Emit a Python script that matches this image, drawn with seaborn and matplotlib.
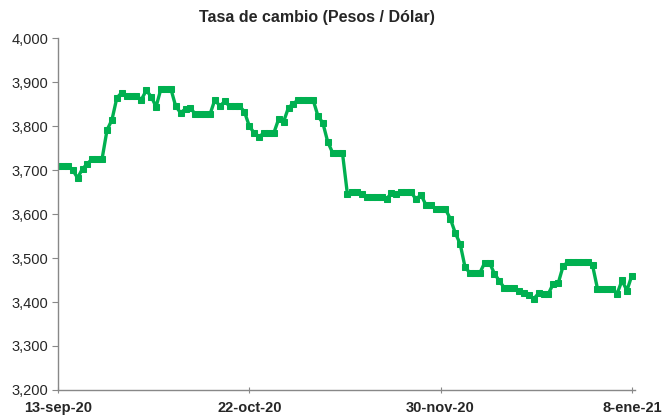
import pandas as pd
import matplotlib.pyplot as plt
import matplotlib.ticker as mticker
import seaborn as sns

# daily exchange rate, 13-sep-20 .. 8-ene-21
start_date = "2020-09-13"
tasa = [3710, 3710, 3710, 3700, 3682, 3703, 3714, 3726, 3726, 3726,
        3791, 3814, 3864, 3876, 3869, 3869, 3869, 3860, 3881, 3867,
        3844, 3885, 3885, 3885, 3845, 3830, 3839, 3841, 3827, 3827,
        3827, 3827, 3860, 3845, 3856, 3845, 3845, 3845, 3833, 3800,
        3784, 3776, 3784, 3784, 3784, 3816, 3810, 3842, 3851, 3860,
        3860, 3860, 3860, 3823, 3807, 3764, 3739, 3739, 3739, 3646,
        3649, 3649, 3646, 3639, 3639, 3639, 3639, 3634, 3648, 3646,
        3650, 3650, 3650, 3633, 3644, 3621, 3621, 3611, 3611, 3611,
        3589, 3557, 3532, 3479, 3466, 3466, 3466, 3489, 3489, 3464,
        3448, 3432, 3432, 3432, 3426, 3420, 3417, 3407, 3420, 3419,
        3419, 3442, 3443, 3482, 3491, 3491, 3491, 3492, 3492, 3483,
        3430, 3430, 3430, 3430, 3419, 3449, 3426, 3460]

tick_dates = ["2020-09-13", "2020-10-22", "2020-11-30", "2021-01-08"]
tick_labels = ["13-sep-20", "22-oct-20", "30-nov-20", "8-ene-21"]

df = pd.DataFrame({"fecha": pd.date_range(start_date, periods=len(tasa), freq="D"),
                   "tasa": tasa})

sns.set_style("white")
plt.rcParams['font.family'] = ['Liberation Sans', 'DejaVu Sans']

fig = plt.figure(figsize=(6.62, 4.18), dpi=100)
ax = fig.add_axes([0.0876, 0.067, 0.872, 0.842])

sns.lineplot(data=df, x="fecha", y="tasa", ax=ax, color="#00B050",
             linewidth=2.4, marker="s", markersize=4,
             markeredgecolor="#00B050")

ax.set_xlim(pd.Timestamp(start_date), pd.Timestamp(start_date) + pd.Timedelta(days=117.7))
ax.set_ylim(3200, 4000)
ax.yaxis.set_major_locator(mticker.MultipleLocator(100))
ax.yaxis.set_major_formatter(mticker.FuncFormatter(lambda v, p: f"{int(v):,}"))
ax.set_xticks(pd.to_datetime(tick_dates))
ax.set_xticklabels(tick_labels, fontweight="bold", fontsize=10.5)
ax.tick_params(axis="y", labelsize=10.5, length=4, color="#888888", pad=3, left=True)
ax.tick_params(axis="x", length=4, color="#888888", pad=6, bottom=True, direction="inout")
ax.set_xlabel("")
ax.set_ylabel("")

for side in ["top", "right"]:
    ax.spines[side].set_visible(False)
for side in ["left", "bottom"]:
    ax.spines[side].set_color("#888888")
    ax.spines[side].set_linewidth(1)

fig.text(0.479, 0.957, "Tasa de cambio (Pesos / Dólar)", ha="center", va="center",
         fontsize=11.5, fontweight="bold")

fig.savefig("out.png", dpi=100)
